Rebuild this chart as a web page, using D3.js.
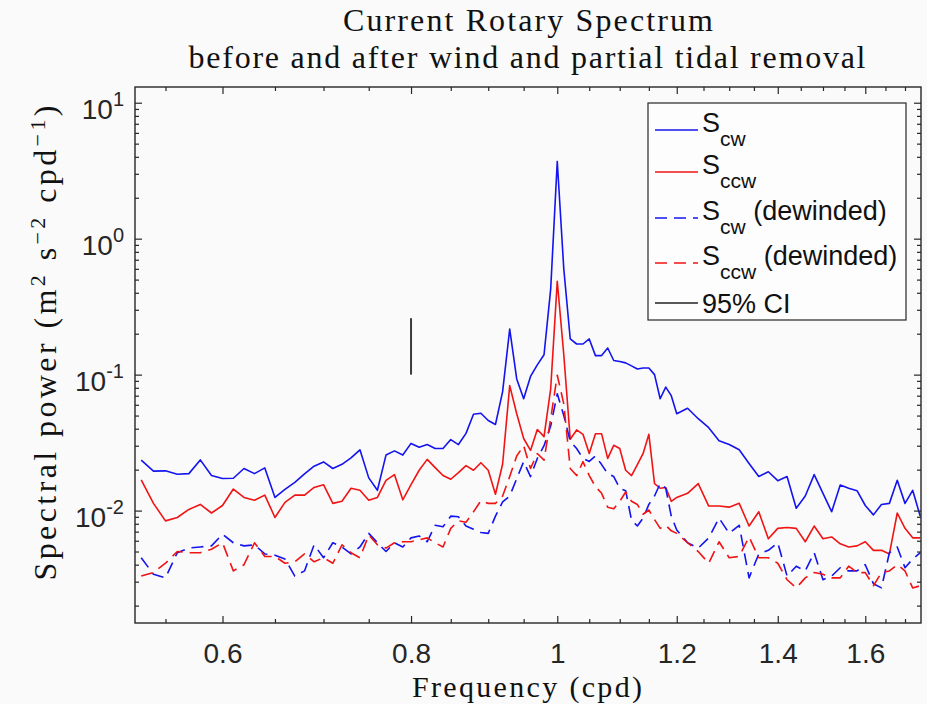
<!DOCTYPE html>
<html>
<head>
<meta charset="utf-8">
<script src="https://cdn.jsdelivr.net/npm/d3@7"></script>
<style>
  body { margin: 0; background: #fafafa; }
  svg { display: block; }
</style>
</head>
<body>
<svg id="chart" width="927" height="704"></svg>
<script>
// frequencies (cpd) the spectra were read at
const freq = [0.53,0.54,0.55,0.56,0.57,0.58,0.59,0.60,0.61,0.62,0.63,0.64,0.65,0.66,0.67,0.68,0.69,0.70,0.71,0.72,
  0.73,0.74,0.75,0.76,0.77,0.78,0.79,0.80,0.81,0.82,0.83,0.84,0.85,0.86,0.87,0.88,0.89,0.90,0.91,0.92,
  0.93,0.94,0.95,0.96,0.97,0.98,0.99,1.00,1.01,1.02,1.03,1.04,1.05,1.06,1.07,1.08,1.09,1.10,1.11,1.12,
  1.13,1.14,1.15,1.16,1.17,1.18,1.19,1.20,1.22,1.24,1.26,1.28,1.30,1.32,1.34,1.36,1.38,1.40,1.42,1.44,
  1.46,1.48,1.50,1.52,1.54,1.56,1.58,1.60,1.62,1.64,1.66,1.68,1.70,1.72,1.74]

const sCw = [0.0235,0.0195,0.0196,0.0185,0.0187,0.0236,0.0181,0.0172,0.0173,0.0204,0.0187,0.0206,0.0125,0.0143,0.0161,0.0186,0.0212,0.0228,0.0204,0.0219,
  0.0244,0.0280,0.0174,0.0141,0.0256,0.0275,0.0256,0.0312,0.0292,0.0306,0.0286,0.0286,0.0333,0.0306,0.037,0.0511,0.052,0.046,0.043,0.075,
  0.216,0.093,0.0665,0.097,0.118,0.140,0.425,3.7,0.6,0.183,0.168,0.168,0.183,0.138,0.138,0.157,0.127,0.125,0.122,0.116,
  0.110,0.112,0.112,0.100,0.0665,0.081,0.070,0.0516,0.0566,0.0474,0.0407,0.0327,0.0306,0.0280,0.0222,0.0178,0.0193,0.0166,0.0178,0.0104,
  0.0128,0.0184,0.0134,0.0098,0.0154,0.0146,0.0140,0.0109,0.0093,0.0111,0.0113,0.0167,0.0113,0.0141,0.0091]

const sCcw = [0.0168,0.0113,0.0084,0.0089,0.0102,0.0111,0.0096,0.0109,0.0144,0.0125,0.0119,0.0130,0.0089,0.0115,0.0130,0.0130,0.0148,0.0155,0.0113,0.0117,
  0.0146,0.0141,0.0119,0.0125,0.0167,0.0184,0.0120,0.0155,0.0198,0.0238,0.0207,0.0181,0.0170,0.0190,0.0214,0.0198,0.0225,0.0198,0.0132,0.022,
  0.083,0.0516,0.0339,0.0277,0.0395,0.0350,0.0787,0.486,0.140,0.0335,0.0392,0.0364,0.0263,0.0367,0.0367,0.0242,0.0302,0.0286,0.0198,0.0181,
  0.0218,0.0263,0.0364,0.0158,0.0146,0.0148,0.0117,0.0125,0.0134,0.0158,0.0108,0.0108,0.0106,0.0113,0.0077,0.0098,0.0062,0.0074,0.0075,0.0074,
  0.0059,0.0077,0.0062,0.0064,0.0057,0.0054,0.0055,0.0059,0.0051,0.0051,0.0048,0.0096,0.0074,0.0063,0.0063]

const sCwDew = [0.0045,0.0034,0.0032,0.0049,0.0053,0.0054,0.0055,0.0067,0.0058,0.0055,0.0056,0.0048,0.0047,0.0044,0.0033,0.0036,0.0056,0.0045,0.0058,0.0054,
  0.0048,0.0054,0.0068,0.0058,0.0050,0.0058,0.0054,0.0063,0.0065,0.0059,0.0078,0.0076,0.0091,0.0090,0.0077,0.0073,0.0069,0.0068,0.0091,0.0116,
  0.0128,0.0172,0.0229,0.0178,0.0242,0.0300,0.0419,0.0723,0.050,0.0323,0.0286,0.0242,0.0230,0.0252,0.0218,0.0187,0.0178,0.0146,0.0140,0.0085,
  0.0077,0.0088,0.0111,0.0128,0.0158,0.0146,0.0091,0.0072,0.0058,0.0053,0.0063,0.0088,0.0068,0.0078,0.0032,0.0048,0.0051,0.0058,0.0033,0.0039,
  0.0036,0.0049,0.0031,0.0033,0.0038,0.0036,0.0036,0.0040,0.0029,0.0027,0.0049,0.0054,0.0038,0.0044,0.0049]

const sCcwDew = [0.0033,0.0035,0.0041,0.0050,0.0049,0.0049,0.0052,0.0058,0.0036,0.0040,0.0058,0.0046,0.0046,0.0041,0.0042,0.0048,0.0042,0.0045,0.0041,0.0056,
  0.0049,0.0045,0.0066,0.0056,0.0053,0.0058,0.0059,0.0059,0.0061,0.0063,0.0058,0.0054,0.0074,0.0084,0.0082,0.0098,0.0118,0.0113,0.0113,0.0128,
  0.0178,0.0252,0.0300,0.0204,0.0263,0.0235,0.0474,0.099,0.061,0.0204,0.0181,0.0229,0.0181,0.0150,0.0134,0.0106,0.0103,0.0117,0.0137,0.0117,
  0.0111,0.0094,0.0101,0.0086,0.0074,0.0078,0.0071,0.0068,0.0058,0.0050,0.0041,0.0059,0.0045,0.0046,0.0064,0.0045,0.0045,0.0041,0.0031,0.0027,
  0.0032,0.0035,0.0034,0.0032,0.0032,0.0039,0.0035,0.0035,0.0028,0.0035,0.0036,0.0040,0.0036,0.0027,0.0028]

// 95% confidence bar
const ciFreq = 0.8
const ciRange = [0.1, 0.26]

const xMajor = [0.6, 0.8, 1, 1.2, 1.4, 1.6]
const xMinor = [0.55,0.65,0.7,0.75,0.85,0.9,0.95,1.05,1.1,1.15,1.25,1.3,1.35,1.45,1.5,1.55,1.65,1.7]
const yMajor = [0.01, 0.1, 1, 10]
const yExp = ["-2", "-1", "0", "1"]
const yMinor = [0.002,0.003,0.004,0.005,0.006,0.007,0.008,0.009,0.02,0.03,0.04,0.05,0.06,0.07,0.08,0.09,
  0.2,0.3,0.4,0.5,0.6,0.7,0.8,0.9,2,3,4,5,6,7,8,9]

const plotLeft = 135, plotRight = 921, plotTop = 87, plotBottom = 623
const sans = "'Liberation Sans', Arial, Helvetica, sans-serif"
const serif = "'Liberation Serif', 'Times New Roman', serif"
const ink = "#262626"
const blue = "#1414ee", red = "#f01414"

const svg = d3.select('#chart')

const x = d3.scaleLog().domain([0.525, 1.742]).range([plotLeft, plotRight])
const y = d3.scaleLog().domain([0.00149, 13.05]).range([plotBottom, plotTop])

// clip for data lines
svg.append('clipPath').attr('id', 'plot')
  .append('rect').attr('x', plotLeft).attr('y', plotTop)
  .attr('width', plotRight - plotLeft).attr('height', plotBottom - plotTop)

const series = [
  {vals: sCw, color: blue, dash: null},
  {vals: sCcw, color: red, dash: null},
  {vals: sCwDew, color: blue, dash: "12,7"},
  {vals: sCcwDew, color: red, dash: "12,7"}
]

const line = d3.line().x(d => x(d[0])).y(d => y(d[1]))

svg.append('g').attr('clip-path', 'url(#plot)')
  .selectAll('path')
  .data(series)
  .join('path')
    .attr('d', s => line(freq.map((f, i) => [f, s.vals[i]])))
    .attr('fill', 'none')
    .attr('stroke', s => s.color)
    .attr('stroke-width', 1.6)
    .attr('stroke-dasharray', s => s.dash)
    .attr('stroke-linejoin', 'round')

// CI bar
svg.append('line')
  .attr('x1', x(ciFreq)).attr('x2', x(ciFreq))
  .attr('y1', y(ciRange[0])).attr('y2', y(ciRange[1]))
  .attr('stroke', '#3a3a3a').attr('stroke-width', 2)

// axes, ticks pointing inwards
function styleAxis(g) {
  g.select('.domain').remove()
  g.selectAll('line').attr('stroke', ink).attr('stroke-width', 1.2)
}

const xAxes = [[d3.axisBottom, plotBottom, true], [d3.axisTop, plotTop, false]]
xAxes.forEach(([fn, pos, labels]) => {
  svg.append('g').attr('transform', `translate(0,${pos})`)
    .call(fn(x).tickValues(xMajor).tickSize(-7).tickFormat(labels ? d3.format('') : ''))
    .call(styleAxis)
    .call(g => g.selectAll('text').attr('y', 40).attr('dy', 0)
      .attr('fill', ink).style('font-family', sans).style('font-size', '28px'))
  svg.append('g').attr('transform', `translate(0,${pos})`)
    .call(fn(x).tickValues(xMinor).tickSize(-4).tickFormat(''))
    .call(styleAxis)
})

const yAxes = [[d3.axisLeft, plotLeft, true], [d3.axisRight, plotRight, false]]
yAxes.forEach(([fn, pos, labels]) => {
  const g = svg.append('g').attr('transform', `translate(${pos},0)`)
    .call(fn(y).tickValues(yMajor).tickSize(-7).tickFormat(''))
    .call(styleAxis)
  if (labels) {
    g.selectAll('.tick').append('text')
      .attr('x', -11).attr('y', 16)
      .attr('text-anchor', 'end')
      .attr('fill', ink)
      .style('font-family', sans)
      .each(function(d, i) {
        const t = d3.select(this)
        t.append('tspan').style('font-size', '28px').text('10')
        t.append('tspan').attr('dy', -13).style('font-size', '20px').text(yExp[i])
      })
  }
  svg.append('g').attr('transform', `translate(${pos},0)`)
    .call(fn(y).tickValues(yMinor).tickSize(-4).tickFormat(''))
    .call(styleAxis)
})

svg.append('rect')
  .attr('x', plotLeft).attr('y', plotTop)
  .attr('width', plotRight - plotLeft).attr('height', plotBottom - plotTop)
  .attr('fill', 'none').attr('stroke', ink).attr('stroke-width', 1.4)

// serif texts: fixed size, spread to the width they take in the original
function serifText(px, py, size, width, txt) {
  return svg.append('text').attr('x', px).attr('y', py).attr('text-anchor', 'middle')
    .style('font-family', serif).style('font-size', size + 'px').attr('fill', '#111')
    .attr('textLength', width).attr('lengthAdjust', 'spacing').text(txt)
}
serifText(528, 31, 32, 370, 'Current Rotary Spectrum')
serifText(527, 68, 32, 677, 'before and after wind and partial tidal removal')
serifText(527, 697, 30, 230, 'Frequency (cpd)')

const yLabel = svg.append('text').attr('transform', 'translate(56,343) rotate(-90)')
  .attr('text-anchor', 'middle').style('font-family', serif).attr('fill', '#111')
const yParts = [['Spectral power (m', 0], ['2', 1], [' s', 0], ['\u22122', 1], [' cpd', 0], ['\u22121', 1], [')', 0]]
let lastSup = 0
yParts.forEach(([txt, sup]) => {
  yLabel.append('tspan').attr('class', sup ? 'sup' : 'base')
    .attr('dy', sup ? -11 : (lastSup ? 11 : 0)).text(txt)
  lastSup = sup
})
yLabel.selectAll('tspan.base').style('font-size', '32px')
yLabel.selectAll('tspan.sup').style('font-size', '22px')
yLabel.attr('textLength', 475).attr('lengthAdjust', 'spacing')

// legend
const legend = svg.append('g')
legend.append('rect').attr('x', 648).attr('y', 103).attr('width', 258).attr('height', 217)
  .attr('fill', '#fdfdfd').attr('stroke', ink).attr('stroke-width', 1.2)

const legendRows = [
  {sub: 'cw', rest: '', color: blue, dash: null, y: 130},
  {sub: 'ccw', rest: '', color: red, dash: null, y: 172},
  {sub: 'cw', rest: ' (dewinded)', color: blue, dash: '12,7', y: 218},
  {sub: 'ccw', rest: ' (dewinded)', color: red, dash: '12,7', y: 263}
]
legendRows.forEach(r => {
  legend.append('line').attr('x1', 655).attr('x2', 698).attr('y1', r.y).attr('y2', r.y)
    .attr('stroke', r.color).attr('stroke-width', 1.6).attr('stroke-dasharray', r.dash)
  const t = legend.append('text').attr('x', 702).attr('y', r.y + 2)
    .style('font-family', sans).style('font-size', '27px').attr('fill', '#111')
  t.append('tspan').text('S')
  t.append('tspan').attr('dy', 14).style('font-size', '21px').text(r.sub)
  if (r.rest) t.append('tspan').attr('dy', -14).text(r.rest)
})
legend.append('line').attr('x1', 655).attr('x2', 698).attr('y1', 303).attr('y2', 303)
  .attr('stroke', '#222').attr('stroke-width', 1.4)
legend.append('text').attr('x', 702).attr('y', 313)
  .style('font-family', sans).style('font-size', '27px').attr('fill', '#111').text('95% CI')
</script>
</body>
</html>
